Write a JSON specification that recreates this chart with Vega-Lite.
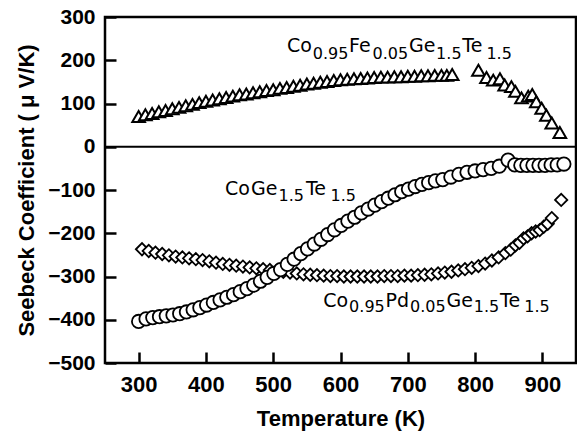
{
  "$schema": "https://vega.github.io/schema/vega-lite/v6.json",
  "width": 471,
  "height": 346,
  "autosize": "none",
  "padding": {"left": 105, "top": 17, "right": 1, "bottom": 70},
  "background": "white",
  "datasets": {
    "fe": [
      {"T":300,"S":70},{"T":310,"S":74},{"T":320,"S":77},{"T":330,"S":81},{"T":340,"S":84},{"T":350,"S":88},{"T":360,"S":91},{"T":370,"S":95},{"T":380,"S":98},{"T":390,"S":102},
      {"T":400,"S":105},{"T":410,"S":108},{"T":420,"S":111},{"T":430,"S":114},{"T":440,"S":117},{"T":450,"S":120},{"T":460,"S":122},{"T":470,"S":125},{"T":480,"S":127},{"T":490,"S":130},
      {"T":500,"S":132},{"T":510,"S":135},{"T":520,"S":137},{"T":530,"S":140},{"T":540,"S":142},{"T":550,"S":145},{"T":560,"S":147},{"T":570,"S":149},{"T":580,"S":151},{"T":590,"S":153},
      {"T":600,"S":155},{"T":610,"S":156},{"T":620,"S":157},{"T":630,"S":158},{"T":640,"S":159},{"T":650,"S":160},{"T":660,"S":161},{"T":670,"S":161},{"T":680,"S":162},{"T":690,"S":162},
      {"T":700,"S":163},{"T":710,"S":163},{"T":720,"S":164},{"T":730,"S":164},{"T":740,"S":165},{"T":750,"S":165},{"T":758,"S":165},{"T":766,"S":167},
      {"T":805,"S":177},{"T":817,"S":160},{"T":827,"S":154},{"T":837,"S":157},{"T":844,"S":143},{"T":854,"S":139},{"T":860,"S":128},{"T":869,"S":113},{"T":879,"S":117},{"T":885,"S":121},
      {"T":891,"S":104},{"T":899,"S":89},{"T":906,"S":73},{"T":914,"S":55},{"T":926,"S":33}
    ],
    "pd": [
      {"T":305,"S":-237},{"T":315,"S":-241},{"T":325,"S":-245},{"T":335,"S":-248},{"T":345,"S":-251},{"T":355,"S":-254},{"T":365,"S":-256},{"T":375,"S":-258},{"T":385,"S":-260},{"T":395,"S":-262},
      {"T":405,"S":-265},{"T":415,"S":-268},{"T":425,"S":-271},{"T":435,"S":-273},{"T":445,"S":-275},{"T":455,"S":-277},{"T":465,"S":-279},{"T":475,"S":-281},{"T":485,"S":-283},{"T":495,"S":-285},
      {"T":505,"S":-287},{"T":515,"S":-289},{"T":525,"S":-291},{"T":535,"S":-293},{"T":545,"S":-295},{"T":555,"S":-296},{"T":565,"S":-297},{"T":575,"S":-298},{"T":585,"S":-299},{"T":595,"S":-299},
      {"T":605,"S":-300},{"T":615,"S":-300},{"T":625,"S":-300},{"T":635,"S":-300},{"T":645,"S":-300},{"T":655,"S":-300},{"T":665,"S":-299},{"T":675,"S":-299},{"T":685,"S":-299},{"T":695,"S":-298},
      {"T":705,"S":-298},{"T":715,"S":-297},{"T":725,"S":-296},{"T":735,"S":-295},{"T":745,"S":-293},{"T":755,"S":-291},{"T":765,"S":-289},{"T":775,"S":-286},{"T":785,"S":-283},{"T":795,"S":-280},
      {"T":805,"S":-276},{"T":815,"S":-270},{"T":825,"S":-263},{"T":835,"S":-256},{"T":845,"S":-246},{"T":853,"S":-238},{"T":860,"S":-228},{"T":866,"S":-222},{"T":872,"S":-212},{"T":878,"S":-207},
      {"T":884,"S":-200},{"T":890,"S":-196},{"T":896,"S":-193},{"T":902,"S":-185},{"T":908,"S":-178},{"T":914,"S":-165},{"T":928,"S":-123}
    ],
    "co": [
      {"T":300,"S":-404},{"T":311,"S":-398},{"T":321,"S":-395},{"T":331,"S":-393},{"T":341,"S":-391},{"T":351,"S":-389},{"T":361,"S":-386},{"T":371,"S":-382},{"T":381,"S":-377},{"T":391,"S":-372},
      {"T":401,"S":-366},{"T":411,"S":-360},{"T":421,"S":-354},{"T":431,"S":-348},{"T":441,"S":-342},{"T":451,"S":-335},{"T":461,"S":-328},{"T":471,"S":-320},{"T":481,"S":-311},{"T":491,"S":-302},
      {"T":501,"S":-293},{"T":511,"S":-284},{"T":521,"S":-272},{"T":531,"S":-260},{"T":541,"S":-247},{"T":551,"S":-236},{"T":561,"S":-225},{"T":571,"S":-214},{"T":581,"S":-203},{"T":591,"S":-192},
      {"T":601,"S":-182},{"T":611,"S":-172},{"T":621,"S":-163},{"T":631,"S":-153},{"T":641,"S":-144},{"T":651,"S":-135},{"T":661,"S":-127},{"T":671,"S":-119},{"T":681,"S":-111},{"T":691,"S":-104},
      {"T":701,"S":-98},{"T":711,"S":-92},{"T":721,"S":-87},{"T":731,"S":-83},{"T":741,"S":-79},{"T":752,"S":-76},{"T":764,"S":-70},{"T":776,"S":-64},{"T":788,"S":-59},{"T":800,"S":-56},
      {"T":812,"S":-53},{"T":824,"S":-50},{"T":836,"S":-45},{"T":849,"S":-31},{"T":859,"S":-42},{"T":868,"S":-43},{"T":877,"S":-43},{"T":886,"S":-43},{"T":895,"S":-43},{"T":904,"S":-43},
      {"T":913,"S":-42},{"T":922,"S":-42},{"T":932,"S":-40}
    ],
    "zero": [{"T":250,"S":0},{"T":950,"S":0}],
    "labels": [
      {"T":520.5,"S":218,"text":"Co","kind":"main"},
      {"T":558.7,"S":203,"text":"0.95","kind":"sub"},
      {"T":612.8,"S":218,"text":"Fe","kind":"main"},
      {"T":647.6,"S":203,"text":"0.05","kind":"sub"},
      {"T":701.7,"S":218,"text":"Ge","kind":"main"},
      {"T":742.1,"S":203,"text":"1.5","kind":"sub"},
      {"T":781.0,"S":218,"text":"Te","kind":"main"},
      {"T":816.8,"S":203,"text":"1.5","kind":"sub"},
      {"T":428.3,"S":-112,"text":"Co","kind":"main"},
      {"T":467.0,"S":-112,"text":"Ge","kind":"main"},
      {"T":507.8,"S":-126,"text":"1.5","kind":"sub"},
      {"T":548.7,"S":-112,"text":"Te","kind":"main"},
      {"T":585.1,"S":-126,"text":"1.5","kind":"sub"},
      {"T":574.4,"S":-370,"text":"Co","kind":"main"},
      {"T":612.8,"S":-383,"text":"0.95","kind":"sub"},
      {"T":667.0,"S":-370,"text":"Pd","kind":"main"},
      {"T":703.3,"S":-383,"text":"0.05","kind":"sub"},
      {"T":757.5,"S":-370,"text":"Ge","kind":"main"},
      {"T":798.1,"S":-383,"text":"1.5","kind":"sub"},
      {"T":837.2,"S":-370,"text":"Te","kind":"main"},
      {"T":873.2,"S":-383,"text":"1.5","kind":"sub"}
    ]
  },
  "encoding": {
    "x": {
      "field": "T", "type": "quantitative",
      "scale": {"domain": [250, 950], "nice": false, "zero": false},
      "axis": {
        "values": [300, 400, 500, 600, 700, 800, 900],
        "title": "Temperature (K)",
        "tickSize": -11, "tickColor": "black", "tickWidth": 2.5,
        "labelFontSize": 22, "labelPadding": 22,
        "titleX": 235.5, "titleY": 62, "titleAlign": "center", "titleBaseline": "alphabetic"
      }
    },
    "y": {
      "field": "S", "type": "quantitative",
      "scale": {"domain": [-500, 300], "nice": false, "zero": false},
      "axis": {
        "values": [-500, -400, -300, -200, -100, 0, 100, 200, 300],
        "title": "Seebeck Coefficient ( μ V/K)",
        "tickSize": -11, "tickColor": "black", "tickWidth": 2.5,
        "labelFontSize": 21, "labelPadding": 21,
        "titleX": -72, "titleY": 173, "titleAngle": -90, "titleAlign": "center", "titleBaseline": "alphabetic"
      }
    }
  },
  "layer": [
    {"data": {"name": "zero"}, "mark": {"type": "line", "color": "black", "strokeWidth": 2}},
    {"data": {"name": "fe"}, "mark": {"type": "point", "shape": "triangle-up", "size": 160, "filled": true, "fill": "white", "stroke": "black", "strokeWidth": 2, "opacity": 1}},
    {"data": {"name": "pd"}, "mark": {"type": "point", "shape": "diamond", "size": 150, "filled": true, "fill": "white", "stroke": "black", "strokeWidth": 1.8, "opacity": 1}},
    {"data": {"name": "co"}, "mark": {"type": "point", "shape": "circle", "size": 180, "filled": true, "fill": "white", "stroke": "black", "strokeWidth": 1.8, "opacity": 1}},
    {"data": {"name": "labels"}, "transform": [{"filter": "datum.kind === 'main'"}], "mark": {"type": "text", "align": "left", "baseline": "alphabetic", "font": "DejaVu Sans", "fontSize": 19, "color": "black"}, "encoding": {"text": {"field": "text"}}},
    {"data": {"name": "labels"}, "transform": [{"filter": "datum.kind === 'sub'"}], "mark": {"type": "text", "align": "left", "baseline": "alphabetic", "font": "DejaVu Sans", "fontSize": 16, "color": "black"}, "encoding": {"text": {"field": "text"}}}
  ],
  "config": {
    "view": {"stroke": "black", "strokeWidth": 2.5},
    "axis": {
      "grid": false, "domain": false, "ticks": true, "zindex": 1,
      "labelFont": "Liberation Sans", "labelFontWeight": "bold", "labelColor": "black",
      "titleFont": "Liberation Sans", "titleFontWeight": "bold", "titleFontSize": 22, "titleColor": "black"
    }
  }
}
